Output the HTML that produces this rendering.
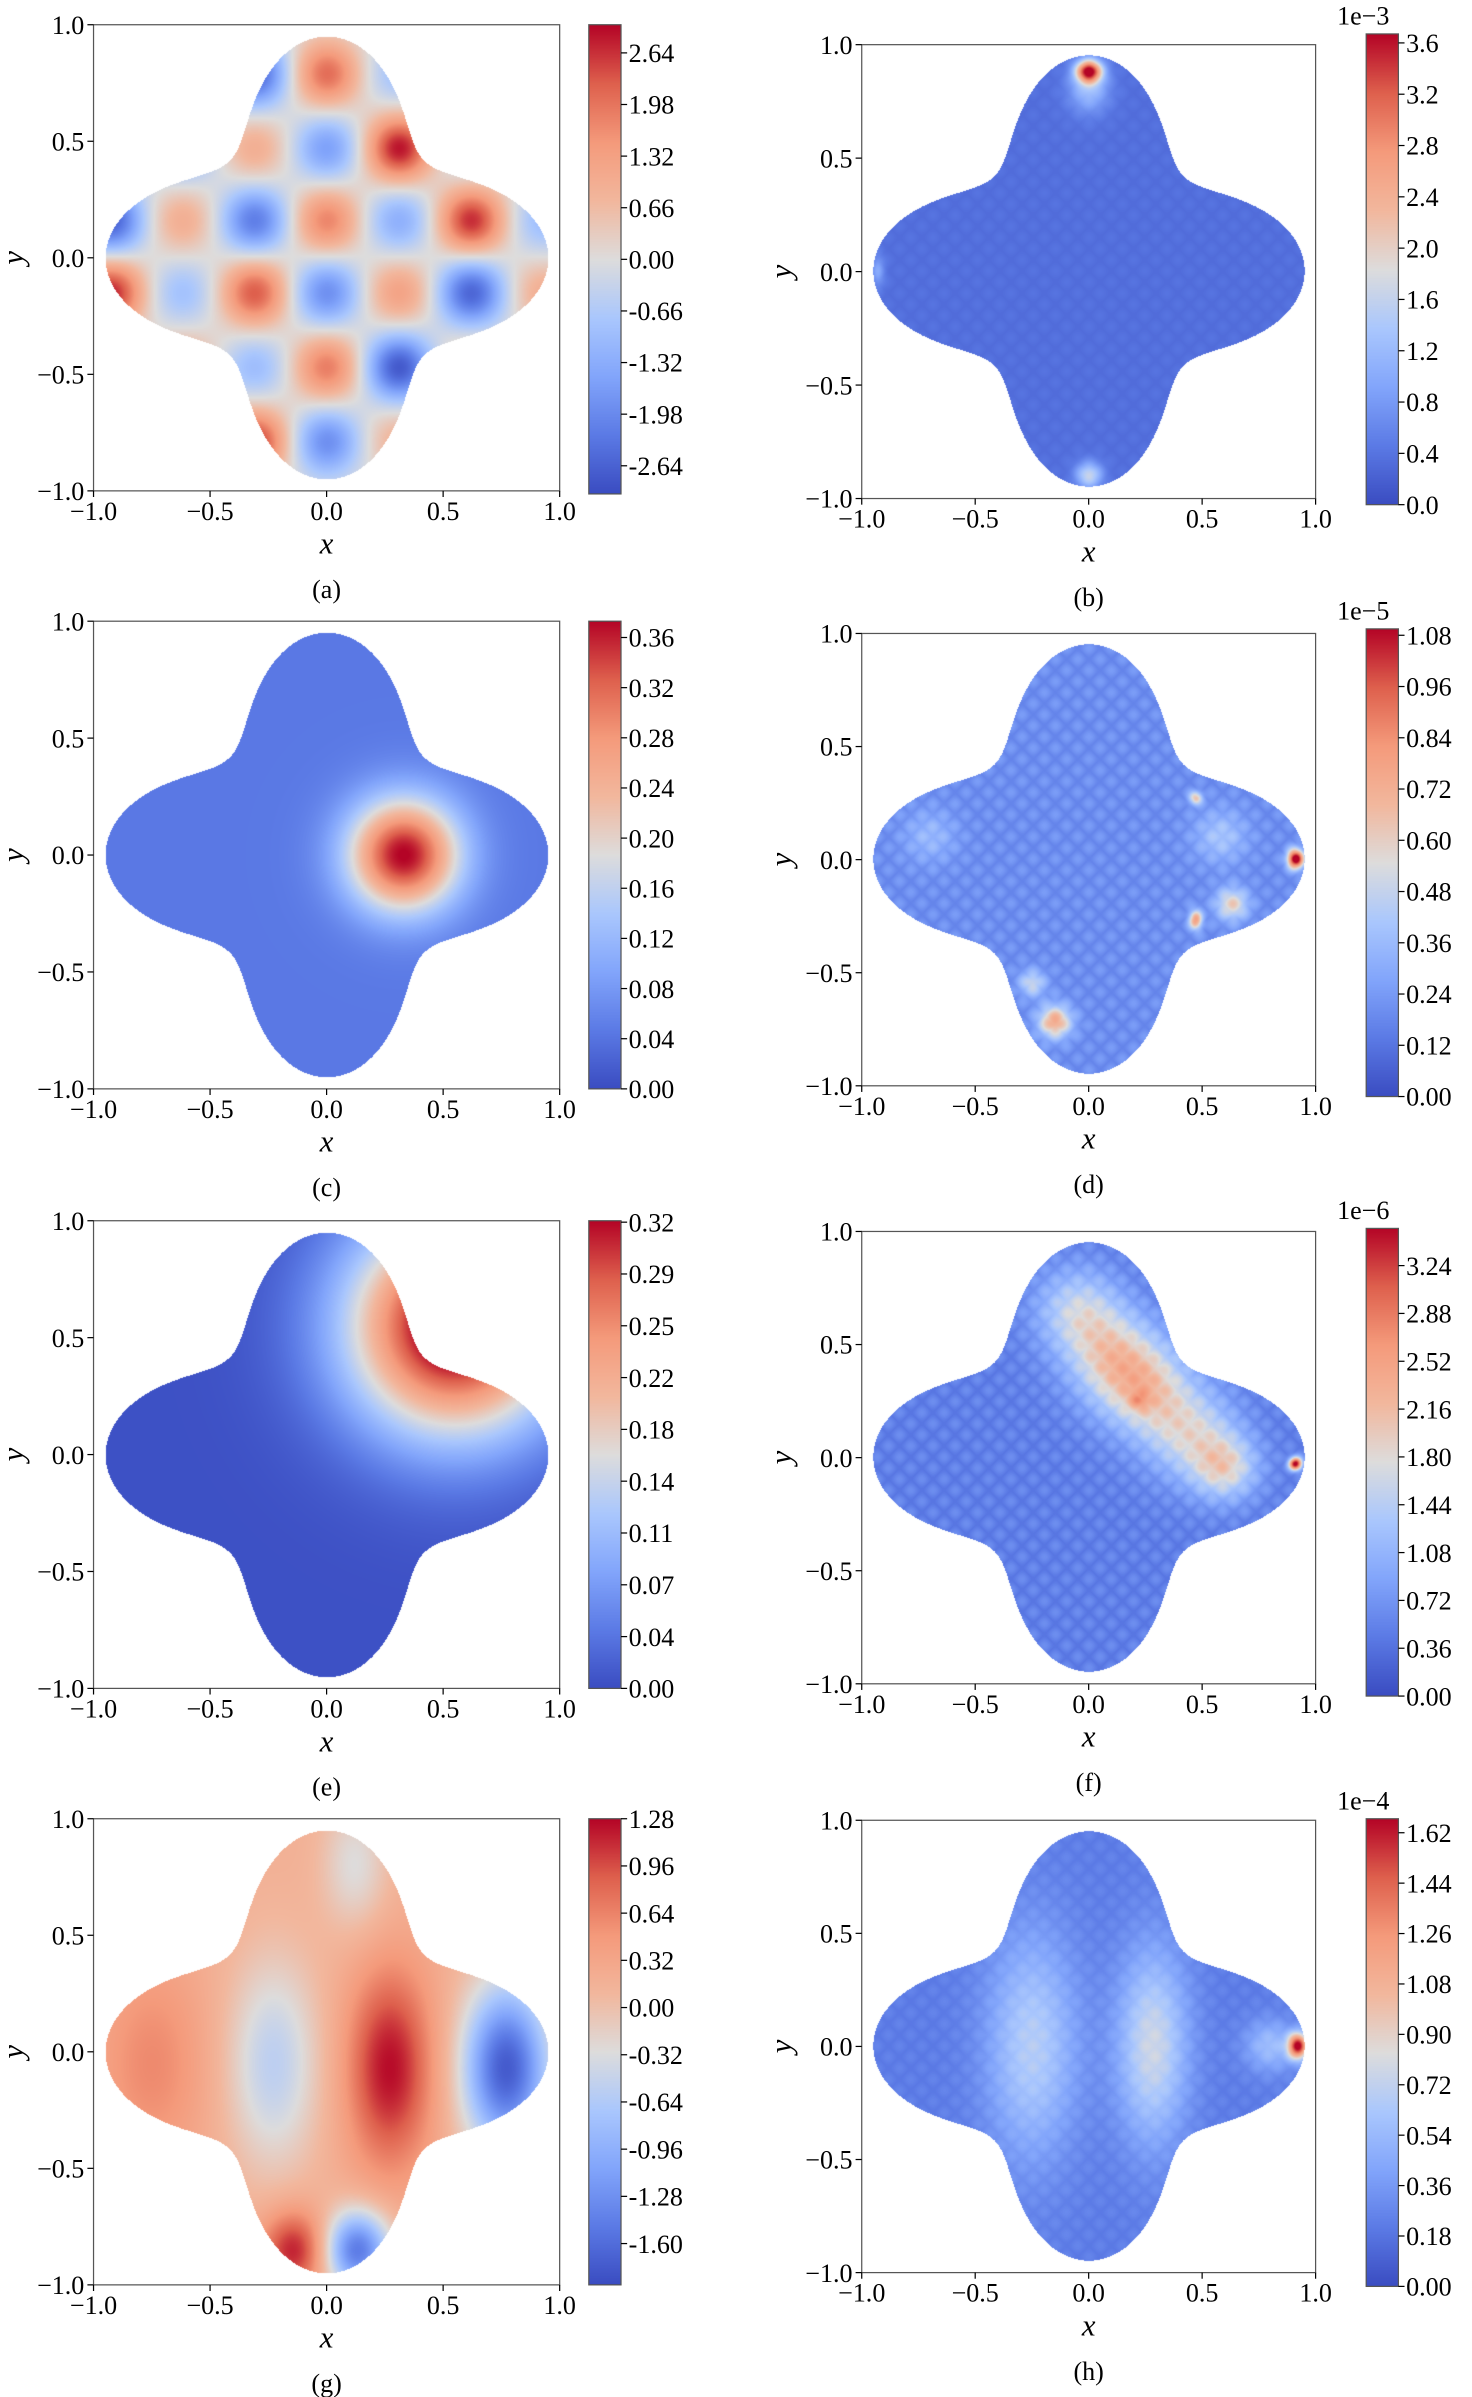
<!DOCTYPE html>
<html><head><meta charset="utf-8">
<style>
html,body{margin:0;padding:0;background:#fff;}
#wrap{position:relative;width:1472px;height:2397px;overflow:hidden;background:#fff;}
canvas{position:absolute;}
svg{position:absolute;left:0;top:0;}
text{font-family:"Liberation Serif",serif;fill:#000;}
</style></head>
<body>
<div id="wrap">
<svg id="ov" width="1472" height="2397" viewBox="0 0 960 1563"></svg>
</div>
<script>
const S = 1472/960;
// ---- data arrays ----
const panelLetters = ['a','b','c','d','e','f','g','h'];
const vmins = [-3.0, 0, 0, 0, 0, 0, -1.88, 0];
const vmaxs = [3.0, 3.67, 0.373, 1.095, 0.325, 3.52, 1.28, 1.67];
const exponents = ['', '1e\u22123', '', '1e\u22125', '', '1e\u22126', '', '1e\u22124'];
const tickA = [2.64,1.98,1.32,0.66,0.00,-0.66,-1.32,-1.98,-2.64];
const tickB = [3.6,3.2,2.8,2.4,2.0,1.6,1.2,0.8,0.4,0.0];
const tickC = [0.36,0.32,0.28,0.24,0.20,0.16,0.12,0.08,0.04,0.00];
const tickD = [1.08,0.96,0.84,0.72,0.60,0.48,0.36,0.24,0.12,0.00];
const tickE = [0.324,0.288,0.252,0.216,0.18,0.144,0.108,0.072,0.036,0.0];
const tickELabels = ['0.32','0.29','0.25','0.22','0.18','0.14','0.11','0.07','0.04','0.00'];
const tickF = [3.24,2.88,2.52,2.16,1.80,1.44,1.08,0.72,0.36,0.00];
const tickG = [1.28,0.96,0.64,0.32,0.00,-0.32,-0.64,-0.96,-1.28,-1.60];
const tickH = [1.62,1.44,1.26,1.08,0.90,0.72,0.54,0.36,0.18,0.00];
const axisTicks = [-1.0,-0.5,0.0,0.5,1.0];
// panel (a) grid cells: [x, y, value]
const cellsA = [
 [-0.31,0.79,-2.6],[0,0.79,2.1],[0.31,0.79,-0.9],
 [-0.62,0.47,-1.4],[-0.31,0.47,1.0],[0,0.47,-1.6],[0.31,0.47,2.9],[0.62,0.47,-0.6],
 [-0.93,0.16,-2.7],[-0.62,0.16,1.0],[-0.31,0.16,-2.2],[0,0.16,1.8],[0.31,0.16,-1.3],[0.62,0.16,2.7],[0.93,0.16,-1.0],
 [-0.93,-0.15,2.8],[-0.62,-0.15,-0.9],[-0.31,-0.15,2.3],[0,-0.15,-1.9],[0.31,-0.15,1.3],[0.62,-0.15,-2.6],[0.93,-0.15,1.0],
 [-0.62,-0.47,1.2],[-0.31,-0.47,-1.0],[0,-0.47,1.9],[0.31,-0.47,-2.8],[0.62,-0.47,0.8],
 [-0.31,-0.79,2.6],[0,-0.79,-1.9],[0.31,-0.79,0.9]
];
// blobs: [x, y, amplitude, sigmaX, sigmaY]
const blobsB = [[0,0.88,3.2,0.04,0.035],[0,0.8,0.9,0.06,0.07],[0,-0.9,1.3,0.04,0.04],[-0.93,0,0.6,0.02,0.05]];
const blobsC = [[0.33,0,0.33,0.17,0.17]];
const blobsD = [[0.91,0.0,1.0,0.025,0.03],[-0.15,-0.72,0.55,0.05,0.05],[-0.25,-0.55,0.3,0.04,0.04],[0.47,-0.27,0.6,0.02,0.03],[0.63,-0.2,0.4,0.05,0.05],[0.47,0.27,0.45,0.02,0.02],[0.58,0.1,0.2,0.08,0.08],[-0.7,0.1,0.15,0.08,0.08]];
const blobsE = [[0.55,0.55,0.36,0.33,0.33]];
const blobsF = [[-0.05,0.65,1.0,0.13,0.13],[0.1,0.45,1.2,0.14,0.14],[0.25,0.3,1.3,0.14,0.14],[0.45,0.1,1.1,0.14,0.14],[0.6,-0.05,1.2,0.1,0.1],[0.22,0.25,0.6,0.03,0.03],[0.91,-0.03,3.2,0.02,0.02]];
const blobsG = [[-0.75,-0.05,0.4,0.17,0.32],[-0.23,-0.05,-0.75,0.14,0.32],[0.27,-0.07,1.05,0.13,0.3],[0.77,-0.07,-1.95,0.13,0.25],[0.12,0.8,-0.5,0.1,0.2],[-0.14,-0.85,1.0,0.1,0.12],[0.13,-0.85,-1.7,0.1,0.12]];
const blobsH = [[0.92,0,1.4,0.03,0.04],[0.8,0,0.35,0.08,0.08],[-0.25,0,0.45,0.14,0.35],[0.28,0,0.55,0.11,0.3]];
const baseG = 0.2;
// ---- layout ----
const boxes = [[61,16,365,320],[562,29,858,325],[61,405,365,710],[562,413,858,708],[61,796,365,1101],[562,803,858,1098],[61,1186,365,1490],[562,1187,858,1482]];
const cbars = [[384,16,405,322],[891,22,912,329],[384,405,405,710],[891,410,912,715],[384,796,405,1101],[891,801,912,1106],[384,1186,405,1490],[891,1186,912,1491]];
const tickSets = [tickA,tickB,tickC,tickD,tickE,tickF,tickG,tickH];

const cw = [[0,58,76,193],[0.125,91,122,229],[0.25,130,165,251],[0.375,170,199,253],[0.5,221,220,220],[0.625,242,183,157],[0.75,244,154,123],[0.875,222,96,77],[1,180,4,38]];
function cmap(t){t=Math.max(0,Math.min(1,t));for(let i=1;i<cw.length;i++){if(t<=cw[i][0]){const a=cw[i-1],b=cw[i],f=(t-a[0])/(b[0]-a[0]);return [a[1]+f*(b[1]-a[1]),a[2]+f*(b[2]-a[2]),a[3]+f*(b[3]-a[3])];}}return cw[8].slice(1);}
function blobs(list,x,y){let v=0;for(const b of list){const sy=b[4]||b[3];v+=b[2]*Math.exp(-((x-b[0])**2)/(2*b[3]*b[3])-((y-b[1])**2)/(2*sy*sy));}return v;}
function cells(list,x,y){let v=0;for(const c of list){v+=c[2]*Math.exp(-((x-c[0])**2+(y-c[1])**2)/(2*0.1*0.1));}return v;}
function tex(x,y){return Math.abs(Math.sin((x+y)*32)*Math.sin((x-y)*32));}
const fields = [
 (x,y)=>cells(cellsA,x,y),
 (x,y)=>0.32+0.08*tex(x,y)+blobs(blobsB,x,y),
 (x,y)=>0.045+blobs(blobsC,x,y),
 (x,y)=>0.17+0.08*tex(x,y)+blobs(blobsD,x,y),
 (x,y)=>0.004+blobs(blobsE,x,y),
 (x,y)=>0.4+0.25*tex(x,y)+blobs(blobsF,x,y),
 (x,y)=>baseG+blobs(blobsG,x,y),
 (x,y)=>0.2+0.06*tex(x,y)+blobs(blobsH,x,y)
];
function inside(x,y){const r=Math.hypot(x,y),th=Math.atan2(y,x);return r<=0.77+0.18*Math.cos(4*th);}

const wrap=document.getElementById('wrap');
const svg=document.getElementById('ov');
const NS='http://www.w3.org/2000/svg';
function el(tag,attrs,txt){const e=document.createElementNS(NS,tag);for(const k in attrs)e.setAttribute(k,attrs[k]);if(txt!==undefined)e.textContent=txt;svg.appendChild(e);return e;}
function fmt(v){return v<0?'\u2212'+Math.abs(v).toFixed(1):v.toFixed(1);}

boxes.forEach((bx,i)=>{
 const [x0,y0,x1,y1]=bx;
 const c=document.createElement('canvas');
 
 
 const W=Math.round((x1-x0)*S),H=Math.round((y1-y0)*S);
 c.width=W;c.height=H;c.style.left=(x0*S)+'px';c.style.top=(y0*S)+'px';
 wrap.insertBefore(c,svg);
 const ctx=c.getContext('2d');const img=ctx.createImageData(W,H);
 const vmin=vmins[i],vmax=vmaxs[i];
 for(let py=0;py<H;py++){const y=1-2*(py+0.5)/H;for(let px=0;px<W;px++){const x=-1+2*(px+0.5)/W;const k=(py*W+px)*4;
  if(!inside(x,y)){img.data[k]=255;img.data[k+1]=255;img.data[k+2]=255;img.data[k+3]=255;continue;}
  const col=cmap((fields[i](x,y)-vmin)/(vmax-vmin));img.data[k]=col[0];img.data[k+1]=col[1];img.data[k+2]=col[2];img.data[k+3]=255;}}
 ctx.putImageData(img,0,0);
 const [c0,cy0,c1,cy1]=cbars[i];
 const cb=document.createElement('canvas');
 
 
 const CW=Math.round((c1-c0)*S),CH=Math.round((cy1-cy0)*S);
 cb.width=CW;cb.height=CH;cb.style.left=(c0*S)+'px';cb.style.top=(cy0*S)+'px';
 wrap.insertBefore(cb,svg);
 const cx=cb.getContext('2d');
 for(let py=0;py<CH;py++){const col=cmap(1-(py+0.5)/CH);cx.fillStyle='rgb('+col.map(Math.round).join(',')+')';cx.fillRect(0,py,CW,1);}
 const fr=el('rect',{x:x0,y:y0,width:x1-x0,height:y1-y0,fill:'none',stroke:'#555','stroke-width':0.8});
 
 
 const xs=v=>x0+(v+1)/2*(x1-x0), ys=v=>y1-(v+1)/2*(y1-y0);
 axisTicks.forEach(v=>{
  el('line',{x1:xs(v),x2:xs(v),y1:y1,y2:y1+4,stroke:'#000','stroke-width':0.8});
  const tx=el('text',{x:xs(v),y:y1+19,'font-size':17,'text-anchor':'middle'},fmt(v));
  
  
  el('line',{x1:x0,x2:x0-4,y1:ys(v),y2:ys(v),stroke:'#000','stroke-width':0.8});
  const ty=el('text',{x:x0-6,y:ys(v)+6,'font-size':17,'text-anchor':'end'},fmt(v));
  
  
 });
 const xl=el('text',{x:(x0+x1)/2,y:y1+41,'font-size':20,'font-style':'italic','text-anchor':'middle'},'x');
 
 
 const yl=el('text',{x:0,y:0,'font-size':20,'font-style':'italic','text-anchor':'middle',transform:'translate('+(x0-46)+','+((y0+y1)/2)+') rotate(-90)'},'y');
 
 
 const lt=el('text',{x:(x0+x1)/2,y:y1+70,'font-size':17,'text-anchor':'middle'},'('+panelLetters[i]+')');
 
 
 const cf=el('rect',{x:c0,y:cy0,width:c1-c0,height:cy1-cy0,fill:'none',stroke:'#555','stroke-width':0.8});
 
 
 const cs=v=>cy1-(v-vmin)/(vmax-vmin)*(cy1-cy0);
 tickSets[i].forEach((v,j)=>{
  el('line',{x1:c1,x2:c1+4,y1:cs(v),y2:cs(v),stroke:'#000','stroke-width':0.8});
  const lab=i===4?tickELabels[j]:(i===1?v.toFixed(1):v.toFixed(2));
  const t=el('text',{x:c1+5,y:cs(v)+6,'font-size':17},lab);
  
  
 });
 if(exponents[i]){const e=el('text',{x:c0-19,y:cy0-6,'font-size':17},exponents[i]);
  
  }
});
</script>
</body></html>
